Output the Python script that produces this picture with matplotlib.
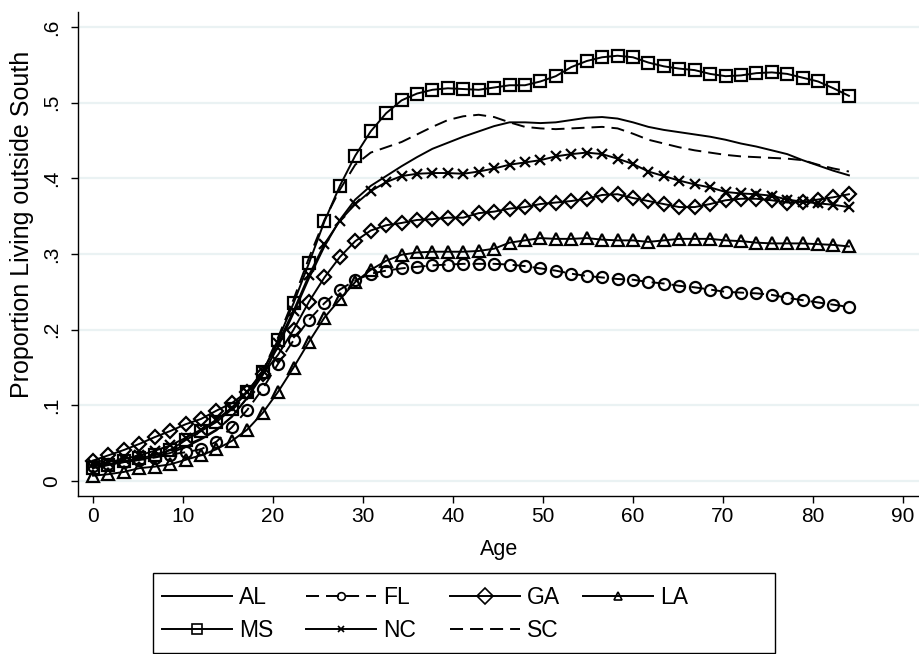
import numpy as np
import matplotlib
matplotlib.use("Agg")
import matplotlib.pyplot as plt
from matplotlib.patches import Rectangle

plt.rcParams['font.family'] = ['Liberation Sans', 'DejaVu Sans']

# lpoly-style grid: 50 points from age 0 to 84
age = np.linspace(0, 84, 50)

AL = [0.020, 0.022, 0.025, 0.028, 0.032, 0.037, 0.045, 0.055, 0.067, 0.085,
      0.110, 0.140, 0.178, 0.222, 0.268, 0.310, 0.345, 0.372, 0.390, 0.403,
      0.416, 0.428, 0.439, 0.447, 0.455, 0.462, 0.469, 0.474, 0.474, 0.473,
      0.474, 0.477, 0.480, 0.481, 0.479, 0.474, 0.468, 0.464, 0.461, 0.458,
      0.455, 0.451, 0.446, 0.442, 0.437, 0.432, 0.424, 0.417, 0.410, 0.404]
FL = [0.020, 0.022, 0.025, 0.028, 0.031, 0.035, 0.038, 0.042, 0.052, 0.071,
      0.094, 0.122, 0.155, 0.186, 0.213, 0.235, 0.253, 0.265, 0.274, 0.278,
      0.281, 0.283, 0.285, 0.286, 0.287, 0.287, 0.287, 0.286, 0.284, 0.281,
      0.278, 0.274, 0.271, 0.269, 0.267, 0.266, 0.263, 0.261, 0.258, 0.256,
      0.253, 0.250, 0.249, 0.248, 0.246, 0.242, 0.239, 0.236, 0.233, 0.230]
GA = [0.027, 0.034, 0.041, 0.049, 0.058, 0.066, 0.075, 0.082, 0.093, 0.103,
      0.118, 0.141, 0.167, 0.200, 0.237, 0.269, 0.296, 0.317, 0.331, 0.338,
      0.341, 0.345, 0.346, 0.348, 0.348, 0.354, 0.356, 0.360, 0.362, 0.366,
      0.368, 0.370, 0.373, 0.378, 0.379, 0.374, 0.370, 0.366, 0.362, 0.362,
      0.366, 0.371, 0.373, 0.373, 0.371, 0.368, 0.369, 0.372, 0.375, 0.379]
LA = [0.007, 0.009, 0.012, 0.017, 0.019, 0.022, 0.028, 0.034, 0.042, 0.053,
      0.068, 0.090, 0.118, 0.150, 0.184, 0.216, 0.240, 0.263, 0.279, 0.291,
      0.299, 0.302, 0.303, 0.303, 0.303, 0.304, 0.307, 0.315, 0.318, 0.321,
      0.320, 0.320, 0.321, 0.319, 0.318, 0.318, 0.316, 0.318, 0.320, 0.320,
      0.320, 0.318, 0.317, 0.315, 0.314, 0.314, 0.314, 0.313, 0.312, 0.310]
MS = [0.017, 0.021, 0.026, 0.030, 0.034, 0.041, 0.054, 0.066, 0.078, 0.095,
      0.118, 0.144, 0.187, 0.235, 0.288, 0.343, 0.390, 0.430, 0.462, 0.486,
      0.503, 0.512, 0.517, 0.519, 0.518, 0.517, 0.520, 0.523, 0.523, 0.528,
      0.535, 0.547, 0.555, 0.560, 0.562, 0.560, 0.553, 0.548, 0.545, 0.543,
      0.538, 0.535, 0.536, 0.539, 0.540, 0.538, 0.533, 0.528, 0.519, 0.509]
NC = [0.022, 0.025, 0.029, 0.034, 0.040, 0.047, 0.057, 0.068, 0.081, 0.097,
      0.118, 0.145, 0.183, 0.225, 0.272, 0.313, 0.344, 0.366, 0.383, 0.395,
      0.403, 0.406, 0.407, 0.407, 0.406, 0.409, 0.413, 0.418, 0.421, 0.424,
      0.429, 0.432, 0.434, 0.432, 0.426, 0.419, 0.409, 0.403, 0.397, 0.392,
      0.388, 0.382, 0.380, 0.379, 0.377, 0.372, 0.369, 0.367, 0.365, 0.362]
SC = [0.022, 0.024, 0.027, 0.031, 0.035, 0.040, 0.047, 0.056, 0.068, 0.085,
      0.110, 0.145, 0.190, 0.240, 0.295, 0.345, 0.385, 0.418, 0.434, 0.441,
      0.448, 0.458, 0.468, 0.477, 0.482, 0.484, 0.481, 0.474, 0.468, 0.466,
      0.465, 0.466, 0.467, 0.468, 0.466, 0.459, 0.451, 0.446, 0.441, 0.437,
      0.434, 0.431, 0.429, 0.428, 0.427, 0.426, 0.424, 0.418, 0.413, 0.409]

labels = ["AL", "FL", "GA", "LA", "MS", "NC", "SC"]
x_ticks = [0, 10, 20, 30, 40, 50, 60, 70, 80, 90]
y_ticks = [0, 0.1, 0.2, 0.3, 0.4, 0.5, 0.6]
y_ticklabels = ["0", ".1", ".2", ".3", ".4", ".5", ".6"]

W, H = 920, 654
fig = plt.figure(figsize=(W / 100, H / 100), dpi=100)
ax = fig.add_axes([78/W, 1 - 496/H, 842/W, 484/H])

lw = 1.4
dash = (6.7, 3.6)
styles = {
    "AL": dict(marker=None, dashes=None, ms=0),
    "FL": dict(marker='o', dashes=dash, ms=8),
    "GA": dict(marker='D', dashes=None, ms=7.2),
    "LA": dict(marker='^', dashes=None, ms=8.5),
    "MS": dict(marker='s', dashes=None, ms=8.2),
    "NC": dict(marker='x', dashes=None, ms=7),
    "SC": dict(marker=None, dashes=dash, ms=0),
}
series = dict(AL=AL, FL=FL, GA=GA, LA=LA, MS=MS, NC=NC, SC=SC)
handles = {}
for name in labels:
    st = styles[name]
    kw = dict(color='black', lw=lw, label=name)
    if st['marker']:
        kw.update(marker=st['marker'], ms=st['ms'], mfc='none', mec='black', mew=1.6)
    ln, = ax.plot(age, series[name], **kw)
    if st['dashes']:
        ln.set_dashes(st['dashes'])
    handles[name] = ln

ax.set_xlim(-1.67, 91.9)
ax.set_ylim(-0.0198, 0.6198)
ax.set_xticks(x_ticks)
ax.set_yticks(y_ticks)
ax.set_yticklabels(y_ticklabels, rotation=90, va='center')
ax.tick_params(axis='both', labelsize=15, length=5, width=1, color='black')
ax.tick_params(axis='y', pad=7)
ax.tick_params(axis='x', pad=3)
for s in ['top', 'right']:
    ax.spines[s].set_visible(False)
for s in ['left', 'bottom']:
    ax.spines[s].set_linewidth(1.0)
ax.grid(axis='y', color='#eaf2f3', lw=1.6)
ax.set_axisbelow(True)

ax.set_xlabel("Age", fontsize=15.5, labelpad=9)
fig.text(22/W, 1 - 224/H, "Proportion Living outside South", rotation=90,
         fontsize=18, ha='center', va='center')

# Stata-style legend: 4 columns filled row-wise, one outer frame
leg_fs = 16.5
fs_px = leg_fs * 100 / 72
columns = [["AL", "MS"], ["FL", "NC"], ["GA", "SC"], ["LA"]]
col_x = [161.7, 305.7, 450.0, 583.3]
top_y = 586.5
leg_ms = {"FL": 5.5, "GA": 8.5, "LA": 6, "MS": 6.5, "NC": 4.5}
for names, cx in zip(columns, col_x):
    lg = fig.legend([handles[n] for n in names], names, loc='upper left',
                    bbox_to_anchor=(cx / W, 1 - top_y / H), ncol=1,
                    fontsize=leg_fs, frameon=False, borderpad=0, borderaxespad=0,
                    handlelength=70 / fs_px, handletextpad=7 / fs_px,
                    labelspacing=0.42, numpoints=1)
    for h, n in zip(lg.legend_handles, names):
        if n in leg_ms:
            h.set_markersize(leg_ms[n])
            h.set_markeredgewidth(1.2)

frame = Rectangle((153/W, 1 - 653/H), (775 - 153)/W, 80/H, transform=fig.transFigure,
                  fill=False, edgecolor='black', lw=1.0)
fig.add_artist(frame)

fig.savefig("out.png", dpi=100)
